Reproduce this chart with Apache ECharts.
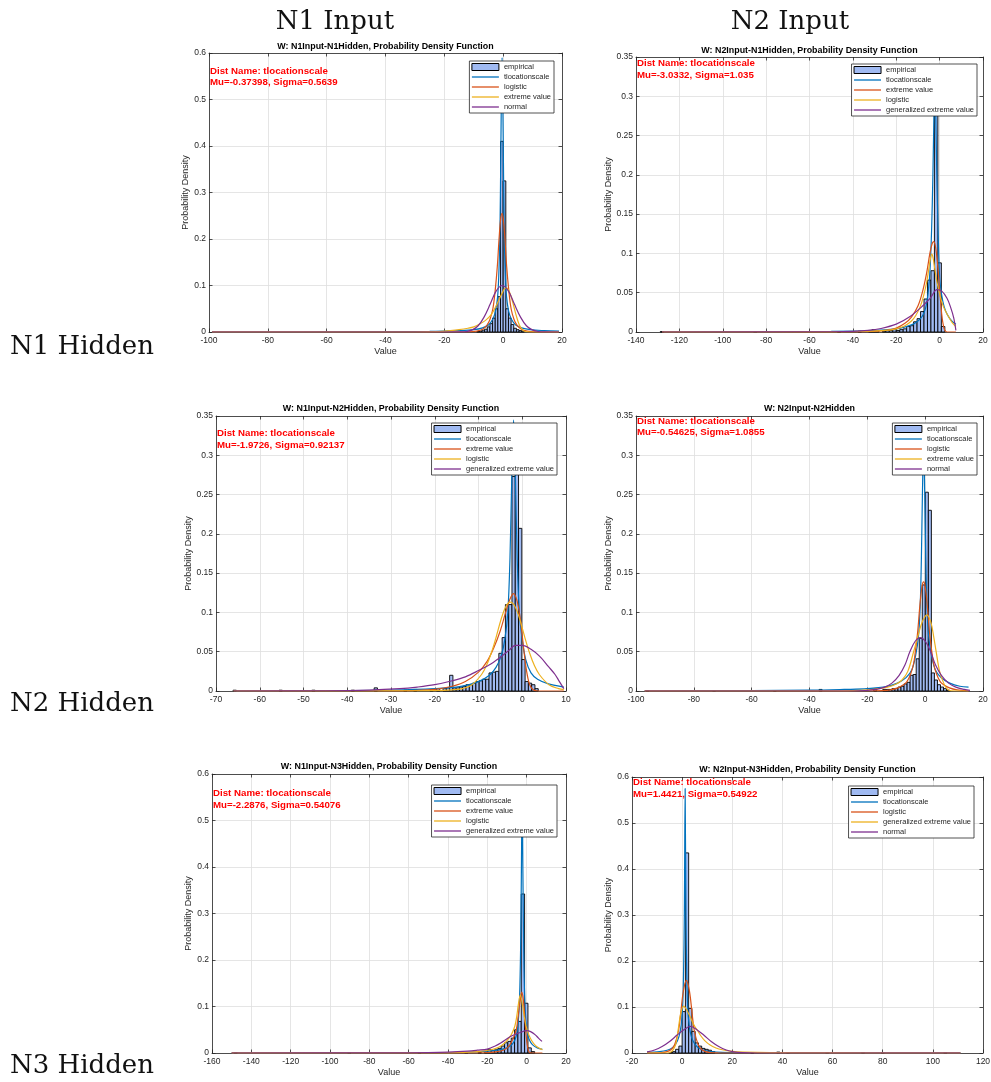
<!DOCTYPE html>
<html>
<head>
<meta charset="utf-8">
<script src="https://cdn.jsdelivr.net/npm/echarts@6/dist/echarts.min.js"></script>
<style>
html, body { margin: 0; padding: 0; background: #fff; }
#main { width: 991px; height: 1082px; }
</style>
</head>
<body>
<div id="main"></div>
<script>
// ---- data ----
var colLabels = ['N1 Input', 'N2 Input'];
var rowLabels = ['N1 Hidden', 'N2 Hidden', 'N3 Hidden'];

// axis ranges: [min, max, step]
var p1XAxis = [-100, 20, 20], p1YAxis = [0, 0.6, 0.1];
var p2XAxis = [-140, 20, 20], p2YAxis = [0, 0.35, 0.05];
var p3XAxis = [-70, 10, 10],  p3YAxis = [0, 0.35, 0.05];
var p4XAxis = [-100, 20, 20], p4YAxis = [0, 0.35, 0.05];
var p5XAxis = [-160, 20, 20], p5YAxis = [0, 0.6, 0.1];
var p6XAxis = [-20, 120, 20], p6YAxis = [0, 0.6, 0.1];

var p1Names = ['empirical', 'tlocationscale', 'logistic', 'extreme value', 'normal'];
var p2Names = ['empirical', 'tlocationscale', 'extreme value', 'logistic', 'generalized extreme value'];
var p3Names = ['empirical', 'tlocationscale', 'extreme value', 'logistic', 'generalized extreme value'];
var p4Names = ['empirical', 'tlocationscale', 'logistic', 'extreme value', 'normal'];
var p5Names = ['empirical', 'tlocationscale', 'extreme value', 'logistic', 'generalized extreme value'];
var p6Names = ['empirical', 'tlocationscale', 'logistic', 'generalized extreme value', 'normal'];

var p1Note = ['Dist Name: tlocationscale', 'Mu=-0.37398, Sigma=0.5639'];
var p2Note = ['Dist Name: tlocationscale', 'Mu=-3.0332, Sigma=1.035'];
var p3Note = ['Dist Name: tlocationscale', 'Mu=-1.9726, Sigma=0.92137'];
var p4Note = ['Dist Name: tlocationscale', 'Mu=-0.54625, Sigma=1.0855'];
var p5Note = ['Dist Name: tlocationscale', 'Mu=-2.2876, Sigma=0.54076'];
var p6Note = ['Dist Name: tlocationscale', 'Mu=1.4421, Sigma=0.54922'];

// histograms: [bin centre, density]
var p1BinWidth = 0.9;
var p1Hist = [[-8.55,0.001],[-7.65,0.002],[-6.75,0.004],[-5.85,0.006],[-4.95,0.011],[-4.05,0.018],[-3.15,0.03],[-2.25,0.05],[-1.35,0.076],[-0.45,0.41],[0.45,0.325],[1.35,0.05],[2.25,0.03],[3.15,0.016],[4.05,0.008],[4.95,0.005],[5.85,0.003],[6.75,0.002]];
var p2BinWidth = 1.6;
var p2Hist = [[-128,0.0005],[-85,0.0005],[-46.4,0.0005],[-36.8,0.001],[-32,0.002],[-30.4,0.003],[-28.8,0.002],[-25.6,0.001],[-24,0.002],[-22.4,0.002],[-20.8,0.003],[-19.2,0.002],[-17.6,0.003],[-16,0.004],[-14.4,0.007],[-12.8,0.008],[-11.2,0.013],[-9.6,0.017],[-8,0.026],[-6.4,0.042],[-4.8,0.066],[-3.2,0.078],[-1.6,0.3],[0,0.088],[1.6,0.007]];
var p3BinWidth = 0.75;
var p3Hist = [[-65.725,0.001],[-55.225,0.001],[-47.725,0.001],[-38.725,0.001],[-33.475,0.004],[-26.725,0.001],[-24.475,0.002],[-20.725,0.002],[-19.225,0.003],[-17.725,0.003],[-16.975,0.004],[-16.225,0.02],[-15.475,0.004],[-14.725,0.004],[-13.975,0.005],[-13.225,0.006],[-12.475,0.008],[-11.725,0.008],[-10.975,0.01],[-10.225,0.012],[-9.475,0.013],[-8.725,0.015],[-7.975,0.015],[-7.225,0.023],[-6.475,0.024],[-5.725,0.025],[-4.975,0.048],[-4.225,0.068],[-3.475,0.11],[-2.725,0.11],[-1.975,0.273],[-1.225,0.29],[-0.475,0.207],[0.275,0.04],[1.025,0.012],[1.775,0.01],[2.525,0.008],[3.275,0.003]];
var p4BinWidth = 1.05;
var p4Hist = [[-96,0.0005],[-73,0.0005],[-52,0.0005],[-36.175,0.002],[-17.275,0.003],[-14.125,0.002],[-13.075,0.002],[-12.025,0.002],[-10.975,0.003],[-9.925,0.003],[-8.875,0.005],[-7.825,0.006],[-6.775,0.009],[-5.725,0.011],[-4.675,0.02],[-3.625,0.021],[-2.575,0.041],[-1.525,0.067],[-0.475,0.135],[0.575,0.253],[1.625,0.23],[2.675,0.023],[3.725,0.014],[4.775,0.008],[5.825,0.005],[6.875,0.003],[7.925,0.001]];
var p5BinWidth = 1.7;
var p5Hist = [[-148,0.001],[-90.2,0.0005],[-54.5,0.001],[-30.7,0.001],[-23.9,0.001],[-20.6,0.002],[-18.9,0.008],[-17.2,0.005],[-15.5,0.007],[-13.8,0.01],[-12.1,0.015],[-10.4,0.022],[-8.7,0.025],[-7,0.032],[-5.3,0.05],[-3.6,0.068],[-1.9,0.342],[-0.2,0.107],[1.5,0.011],[3.2,0.003]];
var p6BinWidth = 1.3;
var p6Hist = [[-4.55,0.001],[-3.25,0.003],[-1.95,0.008],[-0.65,0.015],[0.65,0.09],[1.95,0.435],[3.25,0.097],[4.55,0.047],[5.85,0.022],[7.15,0.015],[8.45,0.01],[9.75,0.008],[11.05,0.006],[12.35,0.003],[27.95,0.001],[38.35,0.002],[42.25,0.001],[57.85,0.001],[72.15,0.001],[80,0.0005],[105,0.0005]];

// fitted pdf curves: [x, density]
var p1Tls = [[-99,0.0002],[-50,0.0006],[-25,0.0012],[-15,0.003],[-10,0.005],[-7,0.009],[-5,0.015],[-3.5,0.028],[-2.6,0.045],[-1.9,0.075],[-1.5,0.12],[-1.15,0.2],[-0.93,0.3],[-0.65,0.48],[-0.37,0.59],[-0.09,0.48],[0.19,0.3],[0.41,0.2],[0.76,0.12],[1.16,0.075],[1.86,0.045],[2.76,0.028],[4.26,0.015],[6.26,0.009],[9.26,0.005],[14,0.003],[19,0.002]];
var p1Logistic = [[-99,0],[-20,0],[-12,0.0003],[-9,0.002],[-7,0.006],[-5.5,0.015],[-4.5,0.027],[-3.5,0.05],[-2.7,0.09],[-2,0.14],[-1.4,0.2],[-0.9,0.24],[-0.4,0.255],[0.1,0.24],[0.6,0.2],[1.2,0.14],[1.9,0.09],[2.7,0.05],[3.7,0.027],[4.7,0.015],[6.2,0.006],[8.2,0.002],[11,0.0003],[19,0]];
var p1Ev = [[-99,0],[-30,0],[-22,0.001],[-18,0.003],[-15,0.005],[-12,0.008],[-10,0.011],[-8,0.017],[-6,0.025],[-4,0.038],[-2.5,0.055],[-1,0.075],[0,0.088],[0.8,0.095],[1.6,0.093],[2.5,0.08],[3.5,0.058],[4.5,0.034],[5.5,0.015],[6.5,0.005],[7.5,0.001],[9,0],[19,0]];
var p1Normal = [[-99,0],[-20,0],[-14.5,0.0002],[-12.5,0.001],[-10.5,0.0045],[-8.5,0.0135],[-6.5,0.032],[-4.4,0.06],[-2.4,0.088],[-0.3,0.1],[1.8,0.088],[3.8,0.06],[5.9,0.032],[7.9,0.0135],[9.9,0.0045],[12,0.001],[14,0.0002],[19,0]];

var p2Tls = [[-128,0.0003],[-80,0.0005],[-50,0.0009],[-35,0.0015],[-25,0.0028],[-18,0.005],[-13,0.009],[-10,0.014],[-8,0.02],[-6.5,0.03],[-5.3,0.05],[-4.4,0.08],[-3.7,0.13],[-3.1,0.2],[-2.6,0.28],[-2.2,0.33],[-1.8,0.28],[-1.3,0.2],[-0.7,0.13],[0,0.07],[0.9,0.048],[2.1,0.032],[3.6,0.022],[5.6,0.014],[7.5,0.01]];
var p2Ev = [[-128,0],[-40,0],[-30,0.0008],[-25,0.002],[-20,0.005],[-16,0.011],[-13,0.019],[-10,0.033],[-8,0.05],[-6,0.075],[-4.5,0.1],[-3.5,0.112],[-2.8,0.115],[-2,0.11],[-1,0.088],[0,0.055],[1,0.022],[2,0.005],[3,0.0005],[4,0],[7.5,0]];
var p2Logistic = [[-128,0],[-50,0.0002],[-35,0.0008],[-25,0.002],[-20,0.004],[-16,0.008],[-13,0.014],[-11,0.021],[-9,0.032],[-7.5,0.045],[-6,0.063],[-5,0.08],[-4.2,0.094],[-3.6,0.099],[-3,0.094],[-2.2,0.08],[-1.2,0.063],[0.3,0.045],[1.8,0.032],[3.8,0.021],[5.8,0.012],[7.5,0.007]];
var p2Gev = [[-128,0],[-50,0.0003],[-40,0.0008],[-33,0.002],[-27,0.0045],[-20,0.01],[-14,0.019],[-7.5,0.034],[-4.3,0.043],[-1.2,0.054],[1,0.052],[3.4,0.043],[5,0.032],[6.5,0.018],[7.5,0.002]];

var p3Tls = [[-66,0.0002],[-45,0.0005],[-30,0.0012],[-20,0.003],[-14,0.006],[-10,0.012],[-7.5,0.02],[-6,0.03],[-4.8,0.045],[-4,0.065],[-3.3,0.1],[-2.8,0.17],[-2.4,0.27],[-1.98,0.345],[-1.56,0.27],[-1.16,0.17],[-0.66,0.1],[0,0.065],[0.8,0.04],[2,0.023],[3.5,0.015],[6,0.009],[9.5,0.005]];
var p3Ev = [[-66,0],[-30,0],[-25,0.0005],[-20,0.002],[-16,0.006],[-13,0.012],[-10,0.024],[-8,0.038],[-6.5,0.055],[-5,0.077],[-3.8,0.1],[-2.8,0.117],[-2,0.124],[-1.2,0.115],[-0.4,0.09],[0.3,0.055],[1,0.025],[1.7,0.008],[2.5,0.0015],[3.5,0],[9.5,0]];
var p3Logistic = [[-66,0],[-30,0.0001],[-20,0.0006],[-16,0.0015],[-13.7,0.003],[-11.5,0.008],[-9.3,0.021],[-8.2,0.032],[-7.1,0.048],[-6,0.068],[-4.9,0.09],[-3.8,0.107],[-2.74,0.113],[-1.6,0.107],[-0.5,0.09],[0.6,0.068],[1.7,0.048],[2.8,0.032],[3.9,0.021],[6.1,0.008],[8.3,0.003],[9.5,0.0018]];
var p3Gev = [[-66,0],[-45,0.0003],[-35,0.0012],[-28,0.003],[-24,0.005],[-20,0.008],[-16,0.013],[-13,0.018],[-10,0.026],[-7,0.035],[-4.5,0.045],[-3,0.052],[-1.6,0.058],[0,0.058],[2,0.053],[4,0.044],[6,0.031],[7.5,0.021],[8.5,0.012],[9.5,0.003]];

var p4Tls = [[-97,0.0003],[-60,0.0006],[-40,0.001],[-28,0.002],[-20,0.003],[-13,0.006],[-9.6,0.01],[-6.6,0.017],[-4.6,0.027],[-3.3,0.045],[-2.3,0.07],[-1.7,0.11],[-1.3,0.17],[-0.95,0.25],[-0.55,0.31],[-0.15,0.25],[0.2,0.17],[0.6,0.11],[1.2,0.07],[2.2,0.045],[3.5,0.027],[5.5,0.017],[8.5,0.01],[12,0.006],[15,0.005]];
var p4Logistic = [[-97,0],[-25,0],[-15,0.0005],[-12,0.0015],[-9.5,0.004],[-7.5,0.008],[-6.3,0.012],[-5,0.022],[-4,0.035],[-3.4,0.05],[-2.6,0.075],[-1.8,0.11],[-1.1,0.133],[-0.55,0.139],[0,0.133],[0.7,0.11],[1.5,0.075],[2.3,0.05],[2.9,0.035],[3.9,0.022],[5.2,0.012],[6.4,0.008],[8.4,0.004],[11,0.0015],[14,0.0005],[15,0]];
var p4Ev = [[-97,0],[-30,0],[-25,0.0005],[-20,0.0015],[-16,0.003],[-13,0.005],[-10,0.009],[-8,0.014],[-6,0.025],[-4,0.05],[-2.5,0.07],[-1,0.088],[0.6,0.097],[2,0.087],[3,0.068],[3.8,0.05],[5,0.025],[6.4,0.01],[7.5,0.003],[9,0.0003],[15,0]];
var p4Normal = [[-97,0],[-25,0],[-21,0.0005],[-17,0.002],[-14,0.005],[-11.5,0.01],[-9,0.02],[-7,0.033],[-5.3,0.05],[-3.5,0.063],[-1.7,0.068],[0.1,0.063],[1.9,0.05],[3.6,0.033],[5.6,0.02],[8.1,0.01],[10.6,0.005],[13.6,0.002],[15.5,0.0008]];

var p5Tls = [[-150,0.0001],[-100,0.0002],[-60,0.0005],[-40,0.001],[-25,0.0025],[-15,0.006],[-10,0.011],[-7.5,0.018],[-6,0.028],[-5,0.042],[-4.2,0.07],[-3.6,0.12],[-3.1,0.22],[-2.7,0.38],[-2.3,0.56],[-1.9,0.38],[-1.5,0.22],[-1,0.12],[-0.4,0.07],[0.4,0.042],[1.4,0.028],[2.9,0.018],[5.4,0.011],[8,0.008]];
var p5Ev = [[-150,0],[-30,0],[-22,0.0005],[-17,0.002],[-12,0.006],[-9,0.015],[-7,0.03],[-5.3,0.05],[-4.3,0.08],[-3.4,0.11],[-2.5,0.131],[-1.7,0.115],[-1,0.08],[-0.5,0.05],[0.2,0.02],[0.9,0.005],[1.8,0.0003],[3,0],[8,0]];
var p5Logistic = [[-150,0],[-50,0.0003],[-35,0.001],[-25,0.003],[-18,0.007],[-14,0.013],[-11,0.022],[-9,0.032],[-7.5,0.042],[-6,0.058],[-5,0.08],[-4.2,0.105],[-3.2,0.125],[-2.2,0.105],[-1.3,0.08],[-0.3,0.058],[1,0.04],[2.5,0.027],[4.5,0.016],[6.5,0.01],[8,0.007]];
var p5Gev = [[-150,0],[-70,0.0002],[-50,0.0008],[-40,0.0018],[-30,0.004],[-25,0.006],[-20,0.0085],[-16,0.015],[-13,0.022],[-8,0.036],[-3.3,0.044],[0,0.048],[2,0.046],[4.4,0.039],[6,0.032],[7.8,0.025]];

var p6Tls = [[-14,0.0015],[-9,0.003],[-6,0.006],[-4,0.011],[-2.5,0.02],[-1.3,0.035],[-0.4,0.06],[0.2,0.1],[0.55,0.17],[0.88,0.3],[1.2,0.575],[1.52,0.3],[1.85,0.17],[2.2,0.1],[2.8,0.06],[3.7,0.035],[5,0.02],[6.6,0.011],[8.6,0.006],[11.6,0.003],[16,0.0015],[30,0.0005],[60,0.0002],[111,0.0001]];
var p6Logistic = [[-14,0],[-11,0.0001],[-8,0.0008],[-6,0.003],[-4.5,0.007],[-3,0.018],[-1.4,0.05],[-0.5,0.09],[0.5,0.135],[1.7,0.158],[2.9,0.135],[3.9,0.09],[4.8,0.05],[6.4,0.018],[7.9,0.007],[9.4,0.003],[11.4,0.0008],[14.4,0.0001],[20,0],[111,0]];
var p6Gev = [[-14,0],[-6,0],[-4.5,0.002],[-3.5,0.008],[-2.5,0.02],[-1.6,0.05],[-0.6,0.085],[0.6,0.102],[2,0.092],[3.5,0.075],[5,0.058],[6,0.05],[7.5,0.037],[9,0.027],[11,0.018],[13.5,0.011],[16,0.007],[20,0.0035],[25,0.0018],[35,0.0006],[60,0.0001],[111,0]];
var p6Normal = [[-14,0.0025],[-11,0.0065],[-8,0.014],[-5,0.025],[-2,0.039],[0.5,0.05],[3.3,0.058],[6,0.05],[8.6,0.039],[11.6,0.025],[14.6,0.014],[17.6,0.0065],[20.6,0.0025],[24,0.0007],[30,0],[111,0]];

// ---- figure ----
var Figure = function () {

	var lineColors = ['#0072BD', '#D95319', '#EDB120', '#7E2F8E'];
	var histFill = '#a0baf2';
	var ink = '#262626';
	var sans = '"Liberation Sans", Arial, sans-serif';

	var plots = [
		{ title: 'W: N1Input-N1Hidden, Probability Density Function', note: p1Note, hist: p1Hist, binWidth: p1BinWidth, curves: [p1Tls, p1Logistic, p1Ev, p1Normal], names: p1Names, x: p1XAxis, y: p1YAxis },
		{ title: 'W: N2Input-N1Hidden, Probability Density Function', note: p2Note, hist: p2Hist, binWidth: p2BinWidth, curves: [p2Tls, p2Ev, p2Logistic, p2Gev], names: p2Names, x: p2XAxis, y: p2YAxis },
		{ title: 'W: N1Input-N2Hidden, Probability Density Function', note: p3Note, hist: p3Hist, binWidth: p3BinWidth, curves: [p3Tls, p3Ev, p3Logistic, p3Gev], names: p3Names, x: p3XAxis, y: p3YAxis },
		{ title: 'W: N2Input-N2Hidden', note: p4Note, hist: p4Hist, binWidth: p4BinWidth, curves: [p4Tls, p4Logistic, p4Ev, p4Normal], names: p4Names, x: p4XAxis, y: p4YAxis },
		{ title: 'W: N1Input-N3Hidden, Probability Density Function', note: p5Note, hist: p5Hist, binWidth: p5BinWidth, curves: [p5Tls, p5Ev, p5Logistic, p5Gev], names: p5Names, x: p5XAxis, y: p5YAxis },
		{ title: 'W: N2Input-N3Hidden, Probability Density Function', note: p6Note, hist: p6Hist, binWidth: p6BinWidth, curves: [p6Tls, p6Logistic, p6Gev, p6Normal], names: p6Names, x: p6XAxis, y: p6YAxis }
	];

	// pixel layout of each axes box (left, top, width, height) + legend / label placement
	var boxes = [
		{ left: 209, top: 53,  width: 353, height: 279, legRight: 437, legTop: 61,  yGap: 18,   titleY: 46.5, noteY: 71 },
		{ left: 636, top: 57,  width: 347, height: 275, legRight: 14,  legTop: 64,  yGap: 21.5, titleY: 50.5, noteY: 63.5 },
		{ left: 216, top: 416, width: 350, height: 275, legRight: 434, legTop: 423, yGap: 21,   titleY: 409,  noteY: 433.5 },
		{ left: 636, top: 416, width: 347, height: 275, legRight: 14,  legTop: 423, yGap: 21.5, titleY: 409,  noteY: 421 },
		{ left: 212, top: 774, width: 354, height: 279, legRight: 434, legTop: 785, yGap: 16.5, titleY: 767,  noteY: 793.5 },
		{ left: 632, top: 777, width: 351, height: 276, legRight: 17,  legTop: 786, yGap: 18,   titleY: 770,  noteY: 782.5 }
	];

	var histRenderer = function (binWidth) {
		return function (params, api) {
			var c = api.value(0);
			var top = api.coord([c - binWidth / 2, api.value(1)]);
			var bottom = api.coord([c + binWidth / 2, 0]);
			return {
				type: 'rect',
				shape: { x: top[0], y: top[1], width: bottom[0] - top[0], height: bottom[1] - top[1] },
				style: { fill: histFill, stroke: '#000', lineWidth: 0.9 }
			};
		};
	};

	var textEl = function (x, y, text, font, fill, align) {
		return {
			type: 'text', x: x, y: y, z: 100,
			style: { text: text, font: font, fill: fill,
				align: align, textAlign: align, verticalAlign: 'middle', textVerticalAlign: 'middle' }
		};
	};

	var build = function () {
		var option = {
			animation: false,
			backgroundColor: '#fff',
			textStyle: { fontFamily: sans },
			grid: [], xAxis: [], yAxis: [], legend: [], series: [],
			graphic: { elements: [] }
		};
		var g = option.graphic.elements;

		// column / row headings
		g.push(textEl(335, 22, colLabels[0], '26px "DejaVu Serif"', '#111', 'center'));
		g.push(textEl(790, 22, colLabels[1], '26px "DejaVu Serif"', '#111', 'center'));
		g.push(textEl(10, 347, rowLabels[0], '26px "DejaVu Serif"', '#111', 'left'));
		g.push(textEl(10, 704, rowLabels[1], '26px "DejaVu Serif"', '#111', 'left'));
		g.push(textEl(10, 1066, rowLabels[2], '26px "DejaVu Serif"', '#111', 'left'));

		plots.forEach(function (p, i) {
			var b = boxes[i];
			var axisLine = { onZero: false, lineStyle: { color: ink, width: 0.8 } };
			var axisTick = { inside: true, length: 3.5, lineStyle: { color: ink, width: 0.8 } };
			var gridLine = { lineStyle: { color: '#dedede', width: 0.8 } };
			var label = { color: ink, fontSize: 8.5, fontFamily: sans, showMinLabel: true, showMaxLabel: true };

			option.grid.push({ left: b.left, top: b.top, width: b.width, height: b.height, containLabel: false, outerBoundsMode: 'none' });

			option.xAxis.push({
				type: 'value', gridIndex: i, position: 'bottom',
				min: p.x[0], max: p.x[1], interval: p.x[2],
				axisLine: axisLine, axisTick: axisTick, splitLine: gridLine,
				axisLabel: Object.assign({ margin: 4 }, label),
				name: 'Value', nameLocation: 'middle', nameGap: 15,
				nameTextStyle: { color: ink, fontSize: 9, fontFamily: sans }
			});
			option.xAxis.push({
				type: 'value', gridIndex: i, position: 'top',
				min: p.x[0], max: p.x[1], interval: p.x[2],
				axisLine: axisLine, axisTick: axisTick,
				axisLabel: { show: false }, splitLine: { show: false }
			});
			option.yAxis.push({
				type: 'value', gridIndex: i, position: 'left',
				min: p.y[0], max: p.y[1], interval: p.y[2],
				axisLine: axisLine, axisTick: axisTick, splitLine: gridLine,
				axisLabel: Object.assign({ margin: 3 }, label),
				name: 'Probability Density', nameLocation: 'middle', nameGap: b.yGap,
				nameTextStyle: { color: ink, fontSize: 9, fontFamily: sans }
			});
			option.yAxis.push({
				type: 'value', gridIndex: i, position: 'right',
				min: p.y[0], max: p.y[1], interval: p.y[2],
				axisLine: axisLine, axisTick: axisTick,
				axisLabel: { show: false }, splitLine: { show: false }
			});

			var axisIdx = 2 * i;
			option.series.push({
				type: 'custom', name: p.names[0] + '#' + i,
				xAxisIndex: axisIdx, yAxisIndex: axisIdx,
				renderItem: histRenderer(p.binWidth),
				data: p.hist, z: 2, silent: true
			});
			p.curves.forEach(function (c, k) {
				option.series.push({
					type: 'line', name: p.names[k + 1] + '#' + i,
					xAxisIndex: axisIdx, yAxisIndex: axisIdx,
					data: c, symbol: 'none', showSymbol: false, smooth: 0.35,
					lineStyle: { color: lineColors[k], width: 1.2 },
					itemStyle: { color: lineColors[k] },
					z: 3 + k, silent: true
				});
			});

			option.legend.push({
				orient: 'vertical', right: b.legRight, top: b.legTop,
				itemWidth: 27, itemHeight: 7, itemGap: 2,
				padding: [2, 3, 2, 2],
				backgroundColor: '#fff', borderColor: ink, borderWidth: 0.8,
				selectedMode: false, z: 20,
				textStyle: { fontSize: 7.5, color: ink, fontFamily: sans },
				formatter: function (name) { return name.split('#')[0]; },
				data: p.names.map(function (n, k) {
					if (k === 0) {
						return { name: n + '#' + i, icon: 'rect', itemStyle: { color: histFill, borderColor: '#000', borderWidth: 1 } };
					}
					return { name: n + '#' + i, icon: 'path://M0,0H27V1.3H0Z', itemStyle: { color: lineColors[k - 1], borderWidth: 0 } };
				})
			});

			// title and red fit note
			g.push(textEl(b.left + b.width / 2, b.titleY, p.title, 'bold 8.9px ' + sans, '#000', 'center'));
			g.push(textEl(b.left + 1, b.noteY, p.note[0], 'bold 9.7px ' + sans, '#ff0000', 'left'));
			g.push(textEl(b.left + 1, b.noteY + 11.8, p.note[1], 'bold 9.7px ' + sans, '#ff0000', 'left'));
		});
		return option;
	};

	return {
		init: function () {
			var chart = echarts.init(document.getElementById('main'), null, { renderer: 'canvas' });
			chart.setOption(build());
		}
	};
}();

Figure.init();
</script>
</body>
</html>
